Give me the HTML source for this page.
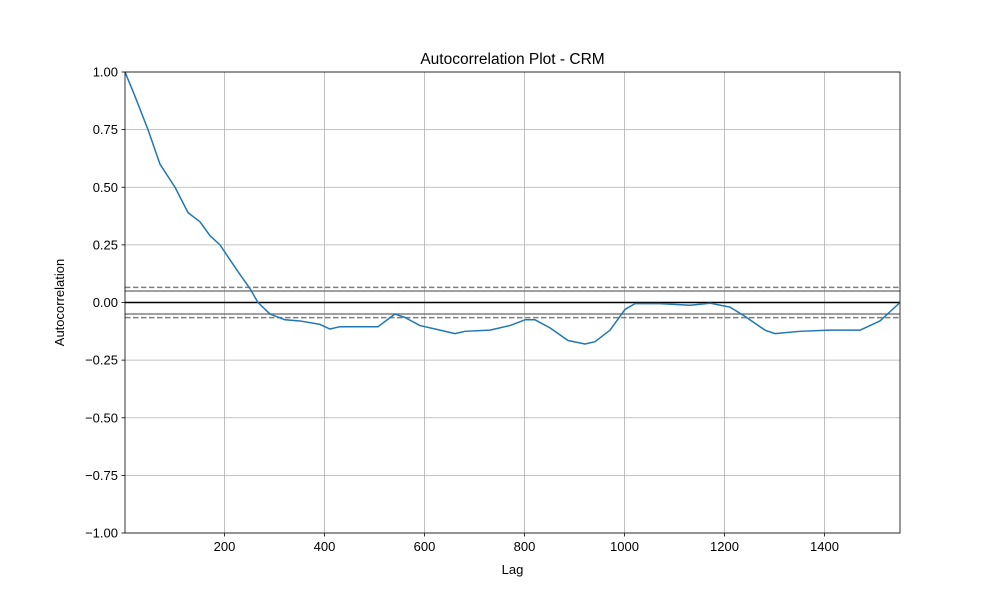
<!DOCTYPE html>
<html><head><meta charset="utf-8"><style>
body{margin:0;background:#fff}
svg{font-family:"Liberation Sans","DejaVu Sans",sans-serif}
</style></head><body>
<svg id="chart" width="1000" height="600" xmlns="http://www.w3.org/2000/svg"></svg>
<script>
const lags=[1,20,47,71,101,127,151,171,191,225,251,267,291,321,351,391,411,431,471,507,541,561,591,631,661,681,731,771,801,821,851,887,921,941,971,1001,1021,1071,1131,1171,1211,1241,1281,1301,1351,1411,1471,1511,1551];
const acf=[1.0,0.9,0.75,0.6,0.5,0.39,0.35,0.29,0.25,0.14,0.06,0.0,-0.05,-0.075,-0.08,-0.095,-0.115,-0.105,-0.105,-0.105,-0.05,-0.065,-0.1,-0.12,-0.135,-0.125,-0.12,-0.1,-0.075,-0.075,-0.11,-0.165,-0.18,-0.17,-0.12,-0.03,-0.005,-0.005,-0.012,-0.003,-0.02,-0.06,-0.12,-0.135,-0.125,-0.12,-0.12,-0.08,0.0];
const xTicks=[200,400,600,800,1000,1200,1400];
const yTicks=[1,0.75,0.5,0.25,0,-0.25,-0.5,-0.75,-1];
const N=1551;
const L=125,R=900,T=72,B=533;
const X=v=>L+(v-1)/(N-1)*(R-L);
const Y=v=>T+(1-v)/2*(B-T);
const svg=document.getElementById('chart');
const NS='http://www.w3.org/2000/svg';
function mk(tag,attrs,parent){const e=document.createElementNS(NS,tag);for(const k in attrs)e.setAttribute(k,attrs[k]);(parent||svg).appendChild(e);return e;}
// grid
xTicks.forEach(t=>{const l=mk('line',{x1:X(t),x2:X(t),y1:T,y2:B,stroke:'#b0b0b0','stroke-width':0.8});


const tk=mk('line',{x1:X(t),x2:X(t),y1:B,y2:B+3.5,stroke:'#000','stroke-width':0.8});
const tx=mk('text',{x:X(t),y:B+18,'text-anchor':'middle','font-size':13});tx.textContent=t;

});
yTicks.forEach(t=>{const l=mk('line',{x1:L,x2:R,y1:Y(t),y2:Y(t),stroke:'#b0b0b0','stroke-width':0.8});


mk('line',{x1:L-3.5,x2:L,y1:Y(t),y2:Y(t),stroke:'#000','stroke-width':0.8});
const tx=mk('text',{x:L-7,y:Y(t)+4.5,'text-anchor':'end','font-size':13});tx.textContent=(t<0?'\u2212':'')+Math.abs(t).toFixed(2);

});
// confidence lines
const z99=2.5758/Math.sqrt(N),z95=1.96/Math.sqrt(N);
[z95,-z95].forEach(v=>{const l=mk('line',{x1:L,x2:R,y1:Y(v),y2:Y(v),stroke:'#808080','stroke-width':1.5});

});
[z99,-z99].forEach(v=>{const l=mk('line',{x1:L,x2:R,y1:Y(v),y2:Y(v),stroke:'#808080','stroke-width':1.5,'stroke-dasharray':'5.5,2.5'});

});
const zl=mk('line',{x1:L,x2:R,y1:Y(0),y2:Y(0),stroke:'#000','stroke-width':1.5});


// series
const p=mk('polyline',{points:lags.map((l,i)=>X(l)+','+Y(acf[i])).join(' '),fill:'none',stroke:'#1f77b4','stroke-width':1.5,'stroke-linejoin':'round'});


// frame
const f=mk('rect',{x:L,y:T,width:R-L,height:B-T,fill:'none',stroke:'#000','stroke-width':0.8});


const ti=mk('text',{x:(L+R)/2,y:64,'text-anchor':'middle','font-size':15.5});ti.textContent='Autocorrelation Plot - CRM';


const xl=mk('text',{x:(L+R)/2,y:574,'text-anchor':'middle','font-size':13});xl.textContent='Lag';


const yl=mk('text',{x:0,y:0,'text-anchor':'middle','font-size':13,transform:'translate(64,'+((T+B)/2)+') rotate(-90)'});yl.textContent='Autocorrelation';


</script>
</body></html>
